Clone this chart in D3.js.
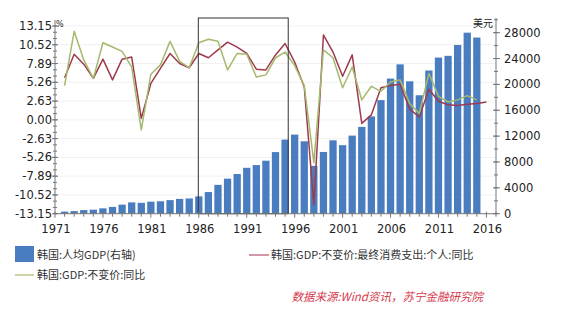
<!DOCTYPE html>
<html><head><meta charset="utf-8">
<script src="https://cdn.jsdelivr.net/npm/d3@7"></script>
<style>
html,body{margin:0;padding:0;background:#fff;}
svg{display:block;}
</style></head>
<body>
<svg id="chart" width="586" height="329"></svg>
<script>
// ---- data ----
const barYears = d3.range(1972, 2016);
const gdpPerCapita = [320,400,560,620,830,1050,1400,1750,1680,1860,
  1920,2100,2290,2360,2680,3350,4460,5420,6140,7100,
  7520,8200,9530,11460,12240,11200,7400,9550,11350,10600,
  12080,13430,15050,17570,20900,23100,20480,18320,22150,24150,
  24420,26100,28000,27250];
const consumptionYears = d3.range(1972, 2017);
const consumptionGrowth = [5.9,9.2,7.8,5.8,8.5,5.6,8.5,8.8,0.2,5.1,
  7.2,9.3,7.9,7.3,9.3,8.7,9.8,10.9,10.2,9.3,
  7.1,7.0,9.1,10.7,8.1,4.6,-11.9,11.9,9.5,6.1,
  9.1,-0.5,0.7,4.5,4.8,5.0,1.5,0.4,4.3,2.6,
  2.1,2.0,2.2,2.3,2.5];
const gdpYears = d3.range(1972, 2016);
const gdpGrowth = [4.8,12.4,8.4,5.8,10.8,10.2,9.6,7.4,-1.4,6.4,
  7.7,11.0,8.2,7.3,10.8,11.3,11.0,7.0,9.3,9.2,
  6.0,6.3,8.7,9.5,7.6,4.8,-6.0,9.8,8.7,4.5,
  7.4,2.8,4.7,4.0,5.3,5.6,2.3,0.9,6.5,3.3,
  2.5,2.8,3.4,2.8];
const leftTicks = [-13.15,-10.52,-7.89,-5.26,-2.63,0,2.63,5.26,7.89,10.52,13.15];
const rightTicks = [0,4000,8000,12000,16000,20000,24000,28000];
const xLabelYears = [1971,1976,1981,1986,1991,1996,2001,2006,2011,2016];
const boxYears = [1986, 1995];
const legendBar = "韩国:人均GDP(右轴)";
const legendRed = "韩国:GDP:不变价:最终消费支出:个人:同比";
const legendGreen = "韩国:GDP:不变价:同比";
const sourceText = "数据来源:Wind资讯，苏宁金融研究院";

// ---- layout ----
const svg = d3.select("#chart");
const L = 55, R = 496, B = 213.7, T = 18;
const x = d3.scaleLinear().domain([1971, 2017]).range([L, R]);
const yL = d3.scaleLinear().domain([-13.15, 13.15]).range([B, 26]);
const yR = d3.scaleLinear().domain([0, 30000]).range([B, B - 15*12.93]);
const step = x(1972) - x(1971);
const bw = step * 0.76;

const numFont = "'DejaVu Sans', Verdana, sans-serif";
const cjkFont = "'Noto Sans CJK SC', 'Noto Sans', sans-serif";
const blue = "#4a7dbf", red = "#9e3a4d", green = "#a5b96e";

// gridlines
svg.append("g").selectAll("line").data(leftTicks.filter(d => d > -13)).join("line")
  .attr("x1", L).attr("x2", R).attr("y1", d => yL(d)).attr("y2", d => yL(d))
  .attr("stroke", "#f1f1f1").attr("stroke-width", 1);

// bars
svg.append("g").selectAll("rect").data(barYears).join("rect")
  .attr("x", (d) => x(d) - bw/2)
  .attr("width", bw)
  .attr("y", (d, i) => yR(gdpPerCapita[i]))
  .attr("height", (d, i) => B - yR(gdpPerCapita[i]))
  .attr("fill", blue);

// lines
const lineL = (ys, vs) => d3.line().x((d, i) => x(ys[i])).y((d) => yL(d))(vs);
svg.append("path").attr("d", lineL(consumptionYears, consumptionGrowth))
  .attr("fill", "none").attr("stroke", red).attr("stroke-width", 1.5).attr("stroke-linejoin", "round");
svg.append("path").attr("d", lineL(gdpYears, gdpGrowth))
  .attr("fill", "none").attr("stroke", green).attr("stroke-width", 1.5).attr("stroke-linejoin", "round");

// box annotation
svg.append("rect")
  .attr("x", x(boxYears[0]) - 0.5).attr("y", T)
  .attr("width", x(boxYears[1]) + bw/2 - x(boxYears[0]))
  .attr("height", B - T)
  .attr("fill", "none").attr("stroke", "#333").attr("stroke-width", 1);

// axes
const axisColor = "#777";
const textColor = "#222";
// left
const gl = svg.append("g");
gl.append("line").attr("x1", L).attr("x2", L).attr("y1", 20).attr("y2", B).attr("stroke", axisColor);
const minorL = d3.range(-13.15, 13.16, 2.63/3);
gl.selectAll("line.mi").data(minorL).join("line").attr("class","mi")
  .attr("x1", L - 2).attr("x2", L + 2).attr("y1", d => yL(d)).attr("y2", d => yL(d)).attr("stroke", axisColor);
gl.selectAll("line.ma").data(leftTicks).join("line").attr("class","ma")
  .attr("x1", L - 3).attr("x2", L + 3).attr("y1", d => yL(d)).attr("y2", d => yL(d)).attr("stroke", axisColor);
gl.selectAll("text").data(leftTicks).join("text")
  .attr("x", L - 3).attr("y", d => yL(d)).attr("dy", "0.35em")
  .attr("text-anchor", "end").attr("font-family", numFont).attr("font-size", 11.5).attr("fill", textColor)
  .text(d => d.toFixed(2));
svg.append("text").attr("x", L + 1).attr("y", 27).attr("font-family", numFont).attr("font-size", 8).attr("fill", textColor).text("%");

// right
const gr = svg.append("g");
gr.append("line").attr("x1", R).attr("x2", R).attr("y1", 18).attr("y2", B).attr("stroke", axisColor);
gr.selectAll("line.mi").data(d3.range(0, 30001, 2000)).join("line").attr("class","mi")
  .attr("x1", R - 2).attr("x2", R + 2).attr("y1", d => yR(d)).attr("y2", d => yR(d)).attr("stroke", axisColor);
gr.selectAll("line.ma").data(rightTicks).join("line").attr("class","ma")
  .attr("x1", R - 3).attr("x2", R + 4).attr("y1", d => yR(d)).attr("y2", d => yR(d)).attr("stroke", axisColor);
gr.selectAll("text").data(rightTicks).join("text")
  .attr("x", R + 8).attr("y", d => yR(d)).attr("dy", "0.35em")
  .attr("font-family", numFont).attr("font-size", 11.5).attr("fill", textColor)
  .text(d => d);
svg.append("text").attr("x", 493).attr("y", 27).attr("text-anchor", "end")
  .attr("font-family", cjkFont).attr("font-size", 10).attr("fill", textColor).text("美元");

// bottom
const gb = svg.append("g");
gb.append("line").attr("x1", L).attr("x2", R).attr("y1", B).attr("y2", B).attr("stroke", axisColor);
gb.selectAll("line.t").data(d3.range(1971, 2018)).join("line").attr("class","t")
  .attr("x1", d => x(d)).attr("x2", d => x(d)).attr("y1", B - 2)
  .attr("y2", d => xLabelYears.includes(d) ? B + 4 : B + 3).attr("stroke", axisColor);
gb.selectAll("text").data(xLabelYears).join("text")
  .attr("x", d => x(d) + 1).attr("y", 229).attr("dy", "0.35em").attr("text-anchor", "middle")
  .attr("font-family", numFont).attr("font-size", 11.5).attr("fill", textColor).text(d => d);

// legend
const lg = svg.append("g").attr("font-family", cjkFont).attr("font-size", 11).attr("fill", "#333");
lg.append("rect").attr("x", 15).attr("y", 246).attr("width", 19).attr("height", 16).attr("fill", blue);
lg.append("text").attr("x", 37).attr("y", 255).attr("dy", "0.35em").text(legendBar);
lg.append("line").attr("x1", 249).attr("x2", 269).attr("y1", 255).attr("y2", 255).attr("stroke", "#b5506a").attr("stroke-width", 1.2);
lg.append("text").attr("x", 271).attr("y", 255).attr("dy", "0.35em").text(legendRed);
lg.append("line").attr("x1", 15).attr("x2", 34).attr("y1", 275).attr("y2", 275).attr("stroke", green).attr("stroke-width", 1.2);
lg.append("text").attr("x", 37).attr("y", 275).attr("dy", "0.35em").text(legendGreen);

// source
svg.append("text").attr("x", 483).attr("y", 297).attr("dy", "0.35em").attr("text-anchor", "end")
  .attr("font-family", cjkFont).attr("font-size", 11.5).attr("font-style", "italic")
  .attr("fill", "#d43a4e").text(sourceText);
</script>
</body></html>
